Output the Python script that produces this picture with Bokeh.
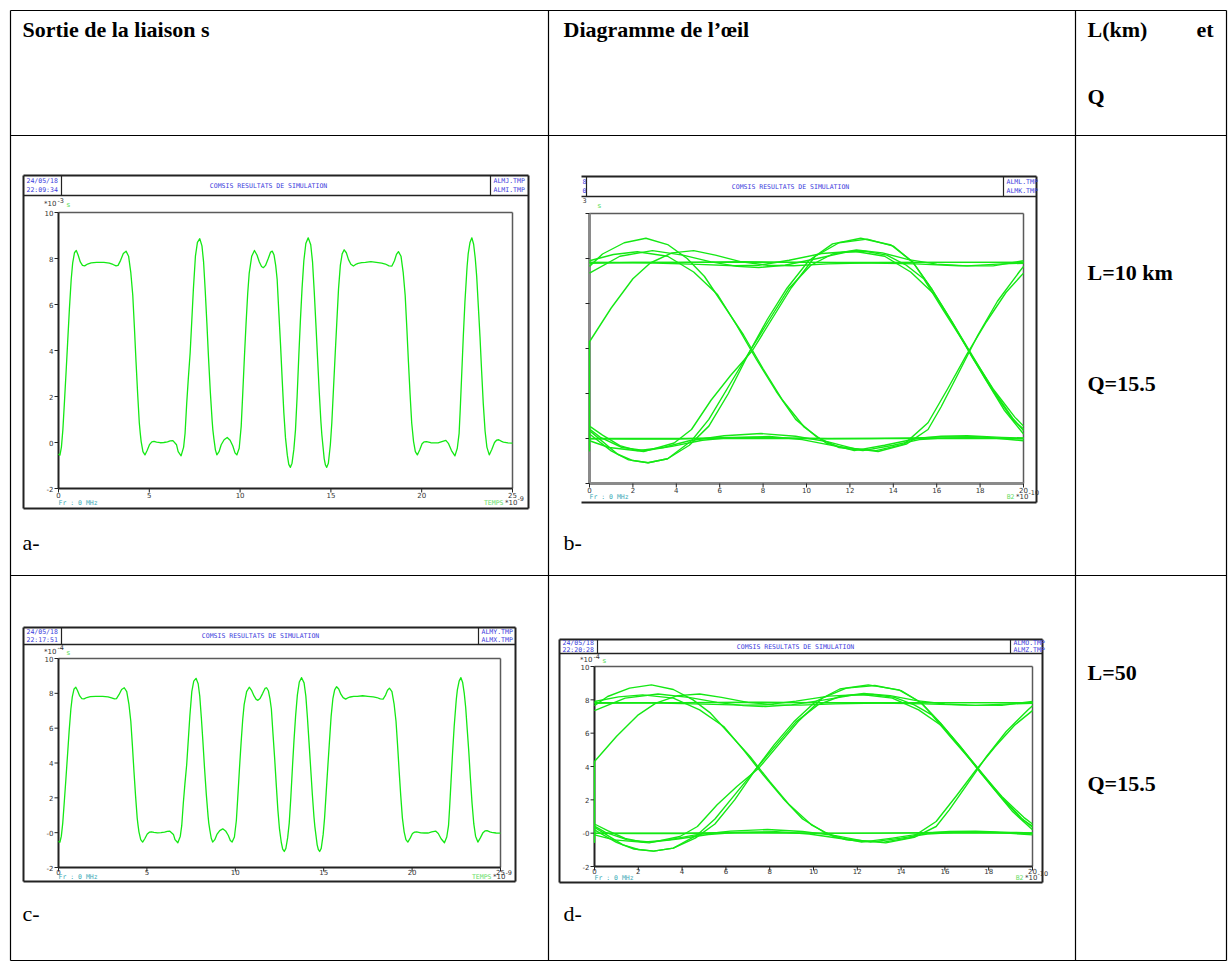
from bokeh.plotting import figure
from bokeh.models import Range1d
from bokeh.embed import file_html
from bokeh.resources import INLINE
from bokeh.core.properties import value

W, H = 1230, 964

# ---------------------------------------------------------------------------
# Link output s(t): time in ns, amplitude in units of 1e-3 (10 km) / 1e-4 (50 km)
temps_ns = [
    0.00, 0.08, 0.16, 0.24, 0.33, 0.42, 0.50, 0.60, 0.70, 0.78,
    0.88, 0.98, 1.08, 1.20, 1.32, 1.44, 1.60, 1.80, 2.10, 2.50,
    2.80, 3.00, 3.17, 3.28, 3.42, 3.57, 3.72, 3.86, 3.98, 4.09,
    4.18, 4.27, 4.36, 4.45, 4.50, 4.55, 4.65, 4.76, 4.88, 5.02,
    5.14, 5.26, 5.40, 5.60, 5.80, 6.00, 6.15, 6.30, 6.50, 6.59,
    6.75, 6.89, 6.97, 7.06, 7.15, 7.25, 7.34, 7.43, 7.54, 7.65,
    7.78, 7.90, 7.99, 8.08, 8.17, 8.26, 8.36, 8.46, 8.50, 8.56,
    8.64, 8.72, 8.84, 8.96, 9.12, 9.29, 9.45, 9.60, 9.72, 9.82,
    9.95, 10.06, 10.15, 10.24, 10.33, 10.42, 10.50, 10.64, 10.79, 10.93,
    11.06, 11.18, 11.28, 11.40, 11.55, 11.68, 11.77, 11.87, 11.96, 12.04,
    12.13, 12.23, 12.32, 12.41, 12.50, 12.60, 12.68, 12.77, 12.86, 12.96,
    13.05, 13.14, 13.24, 13.32, 13.41, 13.51, 13.62, 13.75, 13.89, 13.99,
    14.08, 14.17, 14.27, 14.36, 14.45, 14.50, 14.63, 14.70, 14.77, 14.86,
    14.97, 15.05, 15.14, 15.24, 15.33, 15.42, 15.52, 15.62, 15.73, 15.85,
    15.97, 16.10, 16.24, 16.40, 16.50, 16.70, 16.90, 17.20, 17.50, 17.80,
    18.00, 18.20, 18.36, 18.50, 18.61, 18.72, 18.86, 18.98, 19.09, 19.18,
    19.27, 19.36, 19.45, 19.55, 19.65, 19.76, 19.90, 20.02, 20.14, 20.26,
    20.50, 20.70, 20.90, 21.11, 21.33, 21.48, 21.64, 21.83, 21.96, 22.06,
    22.12, 22.20, 22.29, 22.38, 22.48, 22.50, 22.56, 22.66, 22.76, 22.86,
    22.95, 23.03, 23.12, 23.21, 23.30, 23.39, 23.49, 23.59, 23.72, 23.86,
    24.01, 24.12, 24.24, 24.40, 24.50, 24.75, 25.00,
]
sortie_10km = [
    -0.50, -0.55, -0.20, 0.55, 1.80, 3.10, 4.30, 5.80, 7.10, 7.80,
    8.25, 8.35, 8.15, 7.85, 7.70, 7.68, 7.76, 7.81, 7.83, 7.83,
    7.80, 7.74, 7.68, 7.70, 7.92, 8.22, 8.32, 8.10, 7.40, 6.40,
    5.00, 3.50, 2.10, 0.85, 0.42, 0.05, -0.40, -0.54, -0.35, -0.08,
    0.03, 0.05, 0.02, -0.01, 0.00, 0.03, 0.07, 0.08, -0.10, -0.40,
    -0.58, -0.20, 0.40, 1.70, 2.80, 3.90, 5.30, 6.70, 8.10, 8.70,
    8.86, 8.55, 7.84, 6.60, 5.20, 3.70, 2.20, 0.95, 0.55, 0.15,
    -0.32, -0.54, -0.40, -0.10, 0.12, 0.22, 0.10, -0.15, -0.45, -0.54,
    -0.25, 0.70, 2.20, 3.76, 5.20, 6.50, 7.35, 8.10, 8.35, 8.15,
    7.85, 7.65, 7.60, 7.70, 8.00, 8.28, 8.32, 8.15, 7.70, 7.10,
    5.70, 4.20, 2.70, 1.28, 0.20, -0.55, -0.95, -1.08, -0.90, -0.30,
    0.55, 2.00, 3.90, 5.30, 6.68, 7.90, 8.65, 8.90, 8.60, 7.84,
    6.60, 5.20, 3.60, 2.16, 0.90, 0.35, -0.70, -0.98, -1.08, -0.90,
    -0.10, 0.85, 2.30, 3.90, 5.30, 6.68, 7.70, 8.20, 8.38, 8.25,
    7.95, 7.75, 7.67, 7.76, 7.79, 7.82, 7.83, 7.86, 7.83, 7.80,
    7.76, 7.68, 7.67, 7.90, 8.18, 8.30, 8.10, 7.40, 6.40, 5.00,
    3.50, 2.10, 0.85, 0.05, -0.40, -0.54, -0.30, -0.05, 0.03, 0.04,
    -0.01, -0.02, -0.02, 0.04, 0.09, -0.05, -0.35, -0.58, -0.25, 0.40,
    1.40, 2.90, 4.60, 6.10, 7.40, 7.65, 8.20, 8.70, 8.90, 8.62,
    8.00, 7.20, 5.90, 4.60, 3.10, 1.70, 0.50, -0.20, -0.54, -0.30,
    0.00, 0.10, 0.12, 0.05, 0.02, -0.02, -0.03,
]
# the 50 km output keeps the same shape, on a 1e-4 scale
sortie_50km = list(sortie_10km)

# eye diagram: successive 2 ns windows of the output (B2 axis, 0..20 x 1e-10 s)
debut_fenetres_ns = [0.5, 2.5, 4.5, 6.5, 8.5, 10.5, 12.5, 14.5, 16.5, 18.5, 20.5, 22.5]
duree_fenetre_ns = 2.0
paliers = [7.83, 0.0]  # long runs of identical bits

ticks_temps = [0, 5, 10, 15, 20, 25]
ticks_b2 = [0, 2, 4, 6, 8, 10, 12, 14, 16, 18, 20]
ticks_s = [-2, 0, 2, 4, 6, 8, 10]
labels_s_10km = ["-2", "0", "2", "4", "6", "8", "10"]
labels_s_50km = ["-2", "-0", "2", "4", "6", "8", "10"]

# ---------------------------------------------------------------------------
GREEN = "#14e814"
BLUE = "#3b3bdc"
TEAL = "#3aaab6"
DARK = "#222222"
GREY = "#5a5a5a"
SERIF = "Liberation Serif"
MONO = "DejaVu Sans Mono"
SANS = "DejaVu Sans"

p = figure(width=W, height=H, x_range=Range1d(0, W), y_range=Range1d(H, 0),
           output_backend="svg", toolbar_location=None, min_border=0,
           x_axis_location=None, y_axis_location=None)
p.grid.visible = False
p.outline_line_color = None
p.background_fill_color = "white"
p.border_fill_color = "white"


def ecrire(x, y, s, taille, couleur, police=MONO, align="left", base="middle",
           style="normal", xr="default", yr="default"):
    xs = x if isinstance(x, list) else [x]
    ys = y if isinstance(y, list) else [y]
    ss = s if isinstance(s, list) else [s]
    p.text(x=xs, y=ys, text=ss, text_font=value(police), text_font_size=taille,
           text_color=couleur, text_align=align, text_baseline=base,
           text_font_style=style, x_range_name=xr, y_range_name=yr)


def trait(x0, y0, x1, y1, couleur="black", largeur=1.0, xr="default", yr="default"):
    p.segment(x0=[x0], y0=[y0], x1=[x1], y1=[y1], line_color=couleur,
              line_width=largeur, x_range_name=xr, y_range_name=yr)


def echelle_x(px0, px1, v0, v1):
    s = (v1 - v0) / (px1 - px0)
    return Range1d(v0 - px0 * s, v0 + (W - px0) * s)


def echelle_y(py0, py1, v0, v1):
    s = (v1 - v0) / (py1 - py0)
    return Range1d(v0 + (H - py0) * s, v0 - py0 * s)


# ---------------------------------------------------------------------------
# table
for y in (10, 135, 575, 960):
    trait(10, y, 1226, y, largeur=1.2)
for x in (10, 548, 1075, 1226):
    trait(x, 10, x, 960, largeur=1.2)

ecrire(22, 29, "Sortie de la liaison s", "22px", "black", SERIF, style="bold")
ecrire(563, 29, "Diagramme de l\u2019\u0153il", "22px", "black", SERIF, style="bold")
ecrire(1087, 29, "L(km)", "22px", "black", SERIF, style="bold")
ecrire(1213, 29, "et", "22px", "black", SERIF, align="right", style="bold")
ecrire(1087, 96, "Q", "22px", "black", SERIF, style="bold")
ecrire(1087, 272, "L=10 km", "22px", "black", SERIF, style="bold")
ecrire(1087, 383, "Q=15.5", "22px", "black", SERIF, style="bold")
ecrire(1087, 672, "L=50", "22px", "black", SERIF, style="bold")
ecrire(1087, 783, "Q=15.5", "22px", "black", SERIF, style="bold")
ecrire(22, 542, "a-", "22px", "black", SERIF)
ecrire(563, 542, "b-", "22px", "black", SERIF)
ecrire(22, 913, "c-", "22px", "black", SERIF)
ecrire(563, 913, "d-", "22px", "black", SERIF)


def panneau(nom, boite, entete, sep_g, sep_d, cadre, ticks_x, ticks_y, labels_y,
            date, fichiers, titre_x, exposant, etiquette_x, exposant_x,
            bord_gauche=True, labels_gauche=True, ecart=6):
    L, T, R, B = boite
    x0, ytop, x1, ybot = cadre
    p.extra_x_ranges[nom] = echelle_x(x0, x1, ticks_x[0], ticks_x[-1])
    p.extra_y_ranges[nom] = echelle_y(ybot, ytop, ticks_y[0], ticks_y[-1])

    # screenshot frame and header
    trait(L, T, R, T, DARK, 2)
    trait(L, B, R, B, DARK, 2)
    trait(R, T, R, B, DARK, 2)
    if bord_gauche:
        trait(L, T, L, B, DARK, 2)
    trait(L, entete, R, entete, DARK, 1.5)
    trait(sep_g, T, sep_g, entete, DARK, 1.2)
    trait(sep_d, T, sep_d, entete, DARK, 1.2)
    l1 = T + (entete - T) * 0.28
    l2 = T + (entete - T) * 0.74
    if date:
        ecrire(L + 3, l1, date[0], "6.5px", BLUE)
        ecrire(L + 3, l2, date[1], "6.5px", BLUE)
    ecrire(titre_x, (T + entete) / 2, "COMSIS  RESULTATS DE SIMULATION", "6.5px", BLUE, align="center")
    ecrire(sep_d + 3, l1, fichiers[0], "6.5px", BLUE)
    ecrire(sep_d + 3, l2, fichiers[1], "6.5px", BLUE)

    # exponent of the vertical axis and signal name
    ye = (entete + ytop) / 2
    if exposant:
        ecrire(x0 - 2, ye, "*10", "7px", "#333333", SANS, align="right")
        ecrire(x0 - 1, ye - 4, exposant, "6.5px", "#333333", SANS)
    ecrire(x0 + 8, ye + 1, "s", "7px", "#55dd55", SANS)

    # plot frame (drawn on the panel's own scales)
    xa, xb = ticks_x[0], ticks_x[-1]
    ya, yb = ticks_y[0], ticks_y[-1]
    p.segment(x0=[xa, xb], y0=[yb, yb], x1=[xb, xb], y1=[yb, ya], line_color=GREY,
              line_width=1.5, x_range_name=nom, y_range_name=nom)
    p.segment(x0=[xa, xa], y0=[ya, ya], x1=[xb, xa], y1=[ya, yb],
              line_color=("#8a8a8a" if not labels_gauche else DARK),
              line_width=(3 if not labels_gauche else 2), x_range_name=nom, y_range_name=nom)

    # vertical ticks
    p.segment(x0=[x0 - 4] * len(ticks_y), x1=[x0] * len(ticks_y), y0=ticks_y, y1=ticks_y,
              line_color=DARK, line_width=1, y_range_name=nom)
    if labels_gauche:
        ecrire([x0 - 5] * len(ticks_y), ticks_y, labels_y, "7px", "#333333", SANS,
               align="right", yr=nom)

    # horizontal ticks
    p.segment(x0=ticks_x, x1=ticks_x, y0=[ybot] * len(ticks_x), y1=[ybot + 4] * len(ticks_x),
              line_color=DARK, line_width=1, x_range_name=nom)
    ecrire(ticks_x, [ybot + ecart] * len(ticks_x), [str(t) for t in ticks_x], "7px", "#333333",
           SANS, align="center", xr=nom)

    yb_txt = B - (6 if ecart >= 6 else 5)
    ecrire(x0, yb_txt, "Fr : 0 MHz", "6.5px", TEAL)
    ecrire(x1 - 9, yb_txt, etiquette_x, "6.5px", "#66dd66", align="right")
    ecrire(x1 + 5, yb_txt, "*10", "7px", "#333333", SANS, align="right")
    ecrire(x1 + 5, yb_txt - 4, exposant_x, "6.5px", "#333333", SANS)


def fenetres(t, v):
    xs, ys = [], []
    for k, t0 in enumerate(debut_fenetres_ns):
        fx, fy = [], []
        for ti, vi in zip(t, v):
            if k == 0 and ti < t0:
                # lead-in before the first window sits on the left edge
                fx.append(0.0)
                fy.append(vi)
            elif t0 - 1e-9 <= ti <= t0 + duree_fenetre_ns + 1e-9:
                fx.append((ti - t0) * 10)
                fy.append(vi)
        xs.append(fx)
        ys.append(fy)
    for niv in paliers:
        xs.append([ticks_b2[0], ticks_b2[-1]])
        ys.append([niv, niv])
    return xs, ys


# a- : output, 10 km
panneau("a", (23, 175, 528, 508), 195, 61, 490, (58, 212, 512, 488),
        ticks_temps, ticks_s, labels_s_10km, ("24/05/18", "22:09:34"),
        ("ALMJ.TMP", "ALMI.TMP"), 270, "-3", "TEMPS", "-9")
p.line(temps_ns, sortie_10km, line_color=GREEN, line_width=1.3, line_join="round",
       x_range_name="a", y_range_name="a")

# b- : eye diagram, 10 km
panneau("b", (581, 176, 1036, 502), 196, 586, 1003, (589, 213, 1023, 483),
        ticks_b2, ticks_s, labels_s_10km, None,
        ("ALML.TMP", "ALMK.TMP"), 792, None, "B2", "-10",
        bord_gauche=False, labels_gauche=False)
ecrire(582, 181, "8", "6.5px", BLUE)
ecrire(582, 190, "0", "6.5px", BLUE)
ecrire(582, 200, "3", "6.5px", "#333333", SANS)
xs_b, ys_b = fenetres(temps_ns, sortie_10km)
p.multi_line(xs_b, ys_b, line_color=GREEN, line_width=1.4, line_join="round",
             x_range_name="b", y_range_name="b")

# c- : output, 50 km
panneau("c", (23, 627, 515, 881), 644, 61, 478, (58, 658, 500, 867),
        ticks_temps, ticks_s, labels_s_50km, ("24/05/18", "22:17:51"),
        ("ALMY.TMP", "ALMX.TMP"), 262, "-4", "TEMPS", "-9", ecart=4)
p.line(temps_ns, sortie_50km, line_color=GREEN, line_width=1.3, line_join="round",
       x_range_name="c", y_range_name="c")

# d- : eye diagram, 50 km
panneau("d", (559, 639, 1042, 882), 653, 597, 1010, (594, 666, 1032, 866),
        ticks_b2, ticks_s, labels_s_50km, ("24/05/18", "22:20:28"),
        ("ALMO.TMP", "ALMZ.TMP"), 797, "-4", "B2", "-10", ecart=4)
xs_d, ys_d = fenetres(temps_ns, sortie_50km)
p.multi_line(xs_d, ys_d, line_color=GREEN, line_width=1.4, line_join="round",
             x_range_name="d", y_range_name="d")

open("out.html", "w").write(file_html(p, INLINE))
